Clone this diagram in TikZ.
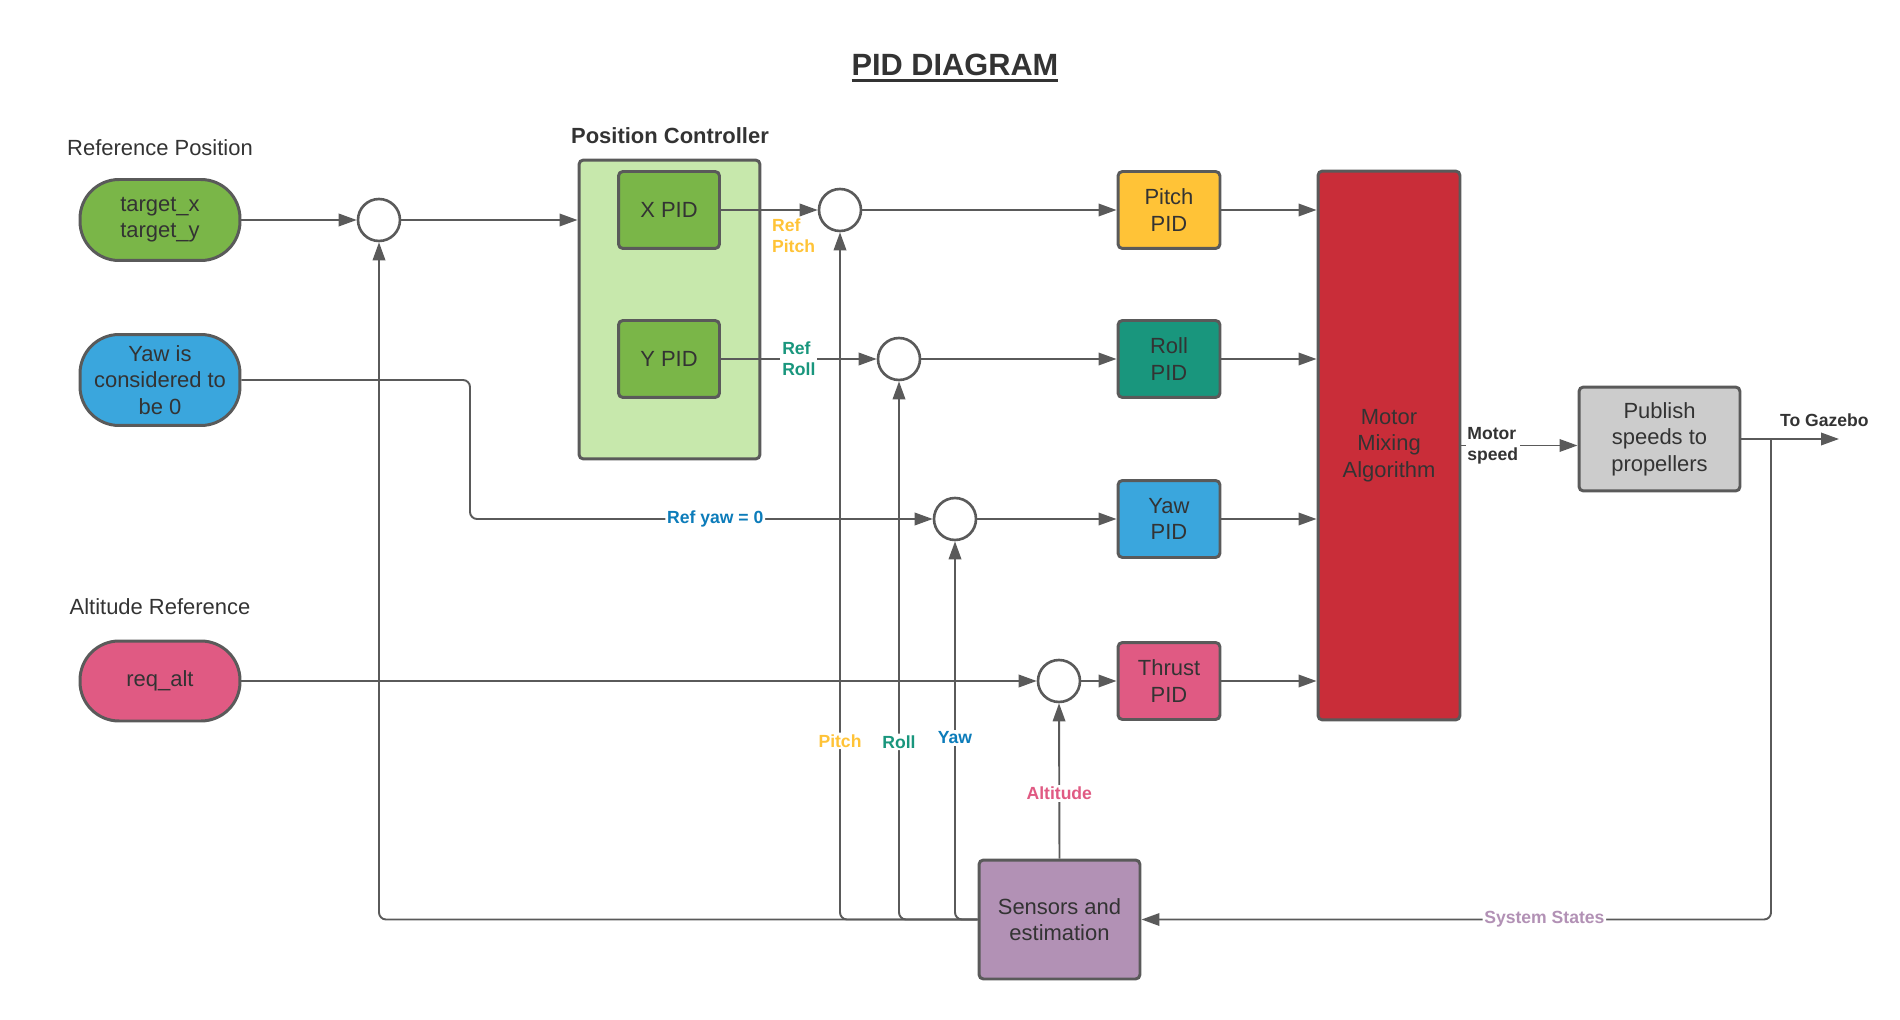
\documentclass[tikz,border=0pt]{standalone}
\usepackage{fontspec}
\setmainfont{Liberation Sans}
\usetikzlibrary{positioning,arrows.meta}

\definecolor{linegray}{HTML}{5A5A5A}
\definecolor{textdark}{HTML}{333333}
\definecolor{leafgreen}{HTML}{7AB648}
\definecolor{palegreen}{HTML}{C7E8AC}
\definecolor{skyblue}{HTML}{3AA6DD}
\definecolor{rosepink}{HTML}{E05A83}
\definecolor{sunyellow}{HTML}{FFC337}
\definecolor{tealgreen}{HTML}{19967D}
\definecolor{mixred}{HTML}{C92D39}
\definecolor{boxgray}{HTML}{CCCCCC}
\definecolor{lilac}{HTML}{B291B5}
\definecolor{yawtext}{HTML}{0C7CBA}

\newcommand{\heavyul}[1]{\vtop{\hbox{#1}\kern2pt\hrule height 2pt}}

\begin{document}
\begin{tikzpicture}[x=0.02cm,y=-0.02cm,
  every node/.style={text=textdark,font=\fontsize{12.5}{15}\selectfont},
  pill/.style={rectangle,rounded corners=0.78cm,draw=linegray,line width=1.7pt,minimum width=3.2cm,inner sep=0pt,align=center},
  block/.style={rectangle,rounded corners=2.5pt,draw=linegray,line width=1.7pt,align=center},
  sumnode/.style={circle,draw=linegray,line width=1.5pt,fill=white,minimum size=0.84cm,inner sep=0pt},
  tag/.style={font=\fontsize{10}{12}\selectfont\bfseries,align=left,inner sep=1pt},
  conn/.style={draw=linegray,line width=1.1pt,-{Triangle[length=0.36cm,width=0.25cm]}}]

\useasboundingbox (0,0) rectangle (1900,1020);

\node[font=\fontsize{17.5}{20}\selectfont\bfseries] (title) at (955,68) {\heavyul{PID DIAGRAM}};

% inputs
\node (refpos) at (160,148) {Reference Position};
\node[pill,fill=leafgreen,minimum height=1.62cm] (target) at (160,220) {target\_x\\target\_y};
\node[pill,fill=skyblue,minimum height=1.82cm] (yawzero) at (160,380) {Yaw is\\considered to\\be 0};
\node (altref) at (160,607) {Altitude Reference};
\node[pill,fill=rosepink,minimum height=1.6cm] (reqalt) at (160,681) {req\_alt};

% position controller
\node[font=\fontsize{12.5}{15}\selectfont\bfseries] (pclabel) at (670,136) {Position Controller};
\node[block,fill=palegreen,minimum width=3.62cm,minimum height=5.98cm] (posctrl) at (669.5,309.5) {};
\node[block,fill=leafgreen,minimum width=2.02cm,minimum height=1.54cm] (xpid) at (669,210) {X PID};
\node[block,fill=leafgreen,minimum width=2.02cm,minimum height=1.54cm] (ypid) at (669,359) {Y PID};

% summing points
\node[sumnode] (sumpos) at (379,220) {};
\node[sumnode] (sumpitch) at (840,210) {};
\node[sumnode] (sumroll) at (899,359) {};
\node[sumnode] (sumyaw) at (955,519) {};
\node[sumnode] (sumthrust) at (1059,681) {};

% attitude PIDs
\node[block,fill=sunyellow,minimum width=2.04cm,minimum height=1.54cm] (pitchpid) at (1169,210) {Pitch\\PID};
\node[block,fill=tealgreen,minimum width=2.04cm,minimum height=1.54cm] (rollpid) at (1169,359) {Roll\\PID};
\node[block,fill=skyblue,minimum width=2.04cm,minimum height=1.54cm] (yawpid) at (1169,519) {Yaw\\PID};
\node[block,fill=rosepink,minimum width=2.04cm,minimum height=1.54cm] (thrustpid) at (1169,681) {Thrust\\PID};

\node[block,fill=mixred,minimum width=2.84cm,minimum height=10.98cm] (mix) at (1389,445.5) {Motor\\Mixing\\Algorithm};
\node[block,fill=boxgray,minimum width=3.22cm,minimum height=2.08cm] (pub) at (1659.5,439) {Publish\\speeds to\\propellers};
\node[block,fill=lilac,minimum width=3.22cm,minimum height=2.38cm] (sensors) at (1059.5,919.5) {Sensors and\\estimation};

\coordinate (yawbend) at (470,519);
\coordinate (split) at (1771,439);
\coordinate (gazebo) at (1839,439);

% forward path
\draw[conn] (target) to (sumpos);
\draw[conn] (sumpos) to (sumpos -| posctrl.west);
\draw[conn] (xpid) to node[tag,text=sunyellow,anchor=north west,pos=0.5,yshift=-0.12cm]{Ref\\Pitch} (sumpitch);
\draw[conn] (ypid) to node[tag,text=tealgreen,fill=white,pos=0.5]{Ref\\Roll} (sumroll);
\draw[conn,rounded corners=4pt] (yawzero.east) -| (yawbend) -- node[tag,text=yawtext,fill=white,pos=0.53]{Ref yaw = 0} (sumyaw);
\draw[conn] (reqalt) to (sumthrust);

\draw[conn] (sumpitch) to (pitchpid);
\draw[conn] (sumroll) to (rollpid);
\draw[conn] (sumyaw) to (yawpid);
\draw[conn] (sumthrust) to (thrustpid);

\draw[conn] (pitchpid) to (pitchpid -| mix.west);
\draw[conn] (rollpid) to (rollpid -| mix.west);
\draw[conn] (yawpid) to (yawpid -| mix.west);
\draw[conn] (thrustpid) to (thrustpid -| mix.west);

\draw[conn] (mix) to node[tag,fill=white,pos=0.27]{Motor\\speed} (mix -| pub.west);
\draw[conn] (pub.east) to node[tag,above=0.2cm,pos=0.85]{To Gazebo} (gazebo);

% feedback
\draw[conn,rounded corners=4pt] (split) |- node[tag,text=lilac,fill=white,pos=0.68]{System States} (sensors.east);
\draw[conn,rounded corners=4pt] (sensors.west) -| (sumpos.south);
\draw[conn,rounded corners=4pt] (sensors.west) -| node[tag,text=sunyellow,fill=white,pos=0.63]{Pitch} (sumpitch.south);
\draw[conn,rounded corners=4pt] (sensors.west) -| node[tag,text=tealgreen,fill=white,pos=0.665]{Roll} (sumroll.south);
\draw[conn,rounded corners=4pt] (sensors.west) -| node[tag,text=yawtext,fill=white,pos=0.74]{Yaw} (sumyaw.south);
\draw[conn] (sensors.north) to node[tag,text=rosepink,fill=white,pos=0.42]{Altitude} (sumthrust.south);

\end{tikzpicture}
\end{document}
